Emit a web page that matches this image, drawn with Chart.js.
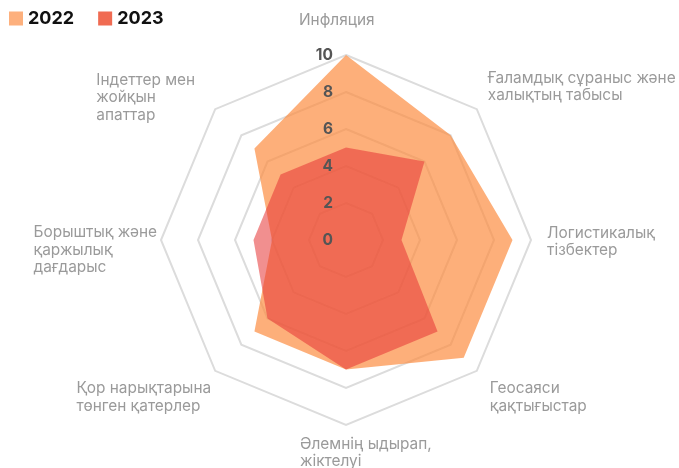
<!DOCTYPE html>
<html lang="kk">
<head>
    <meta charset="utf-8">
    <title>Тәуекелдер 2022-2023</title>
    <script src="https://cdn.jsdelivr.net/npm/chart.js"></script>
    <style>
        body { margin: 0; background: #fff; }
        #wrap { position: relative; width: 679px; height: 468px; }
    </style>
</head>
<body>
<div id="wrap"><canvas id="riskChart"></canvas></div>
<script>
const categories = [
  ['Инфляция'],
  ['Ғаламдық сұраныс және', 'халықтың табысы'],
  ['Логистикалық', 'тізбектер'],
  ['Геосаяси', 'қақтығыстар'],
  ['Әлемнің ыдырап,', 'жіктелуі'],
  ['Қор нарықтарына', 'төнген қатерлер'],
  ['Борыштық және', 'қаржылық', 'дағдарыс'],
  ['Індеттер мен', 'жойқын', 'апаттар']
];
const seriesNames = ['2022', '2023'];
const values2022 = [10, 8, 9, 9, 7, 7, 4, 7];
const values2023 = [5, 6, 3, 7, 7, 6, 5, 5];
const scaleMax = 10;
const tickStep = 2;

// label placement relative to the outer vertex of each axis
const labelPlace = [
  { align: 'left', dx: -47, dy: -34.5 },
  { align: 'left', dx: 11, dy: -31 },
  { align: 'left', dx: 16, dy: -7 },
  { align: 'left', dx: 13, dy: 18 },
  { align: 'left', dx: -46, dy: 19 },
  { align: 'right', dx: -4, dy: 18 },
  { align: 'right', dx: -4, dy: -7.5 },
  { align: 'right', dx: -20, dy: -29 }
];
const legendColors = ['#fdb07d', '#f06b52'];

const overlay = {
  id: 'overlay',
  afterDatasetsDraw(chart) {
    const ctx = chart.ctx;
    const r = chart.scales.r;
    ctx.save();

    // tick labels
    ctx.font = 'bold 15.5px Inter';
    ctx.fillStyle = '#555';
    ctx.textAlign = 'right';
    ctx.textBaseline = 'middle';
    r.ticks.forEach(t => {
      ctx.fillText(String(t.value), r.xCenter - 13, r.yCenter - r.getDistanceFromCenterForValue(t.value));
    });

    // axis names, lines left aligned
    ctx.font = '15.4px Inter';
    ctx.fillStyle = '#9a9a9a';
    ctx.textAlign = 'left';
    categories.forEach((lines, i) => {
      const p = r.getPointPosition(i, r.drawingArea);
      const pl = labelPlace[i];
      const w = Math.max(...lines.map(l => ctx.measureText(l).width));
      const x = pl.align === 'right' ? p.x + pl.dx - w : p.x + pl.dx;
      lines.forEach((l, k) => ctx.fillText(l, x, p.y + pl.dy + k * 17.5));
    });

    // legend
    ctx.font = 'bold 18px Inter';
    let lx = 9;
    chart.data.datasets.forEach((ds, i) => {
      ctx.fillStyle = legendColors[i];
      ctx.fillRect(lx, 11.5, 14, 14);
      ctx.fillStyle = '#111';
      ctx.fillText(ds.label, lx + 19, 19);
      lx += 19 + ctx.measureText(ds.label).width + 24;
    });
    ctx.restore();
  }
};

new Chart(document.getElementById('riskChart'), {
  type: 'radar',
  data: {
    labels: categories,
    datasets: [
      { label: seriesNames[0], data: values2022, order: 1, backgroundColor: 'rgba(252,141,65,0.7)', borderWidth: 0, pointRadius: 0, fill: true },
      { label: seriesNames[1], data: values2023, order: 0, backgroundColor: 'rgba(230,55,55,0.56)', borderWidth: 0, pointRadius: 0, fill: true }
    ]
  },
  options: {
    responsive: true,
    maintainAspectRatio: false,
    animation: false,
    layout: { padding: { top: 55, bottom: 43, left: 150, right: 137 } },
    plugins: { legend: { display: false }, tooltip: { enabled: false } },
    elements: { line: { tension: 0 } },
    scales: {
      r: {
        min: 0,
        max: scaleMax,
        ticks: { display: false, stepSize: tickStep },
        pointLabels: { display: false },
        angleLines: { display: false },
        grid: { color: '#dcdcdc', lineWidth: 2 }
      }
    }
  },
  plugins: [overlay]
});
</script>
</body>
</html>
